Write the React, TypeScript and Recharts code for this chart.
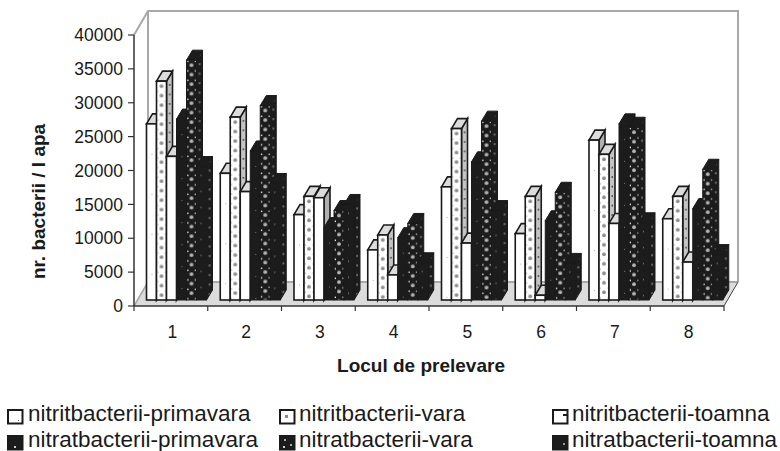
import React from 'react';
import { BarChart, Bar, XAxis, YAxis, Customized } from 'recharts';

const categories = ['1', '2', '3', '4', '5', '6', '7', '8'];
const nitritPrimavara = [26000, 18700, 12600, 7400, 16700, 9800, 23600, 12000];
const nitritVara = [32300, 27000, 15300, 9600, 25300, 15300, 21500, 15300];
const nitritToamna = [21200, 16000, 15100, 3700, 8400, 700, 11300, 5600];
const nitratPrimavara = [26700, 22000, 10700, 9200, 20400, 11700, 26000, 13500];
const nitratVara = [35400, 28700, 13200, 11300, 26400, 15900, 25500, 19300];
const nitratToamna = [19700, 17200, 14100, 5500, 13200, 5400, 11400, 6700];
const yTicks = [0, 5000, 10000, 15000, 20000, 25000, 30000, 35000, 40000];

const seriesNames = [
  'nitritbacterii-primavara', 'nitritbacterii-vara', 'nitritbacterii-toamna',
  'nitratbacterii-primavara', 'nitratbacterii-vara', 'nitratbacterii-toamna',
];
const seriesValues = [nitritPrimavara, nitritVara, nitritToamna, nitratPrimavara, nitratVara, nitratToamna];
const data = categories.map((c, i) => {
  const row: Record<string, string | number> = { cat: c };
  seriesNames.forEach((n, s) => { row[n] = seriesValues[s][i]; });
  return row;
});

const FONT = '"Liberation Sans", Arial, sans-serif';
const W = 780, H = 451;
const L = 134, R = 724, T = 35, B = 306;
const Y_W = 60, X_H = 50;
const WALL_DX = 14, WALL_DY = 24;
const SHIFT_X = 5.5, SHIFT_Y = 6;
const DEPTH_X = 6, DEPTH_Y = 10;
const fills = ['url(#p1)', 'url(#p2)', '#ffffff', 'url(#p4)', 'url(#p5)', 'url(#p6)'];
const sides = ['#b0b0b0', 'url(#s2)', '#b0b0b0', '#1c1c1c', 'url(#s5)', 'url(#s5)'];
const isDark = [false, false, false, true, true, true];

function Bar3D(props: any, s: number) {
  const { x, y, width, height } = props;
  const fx = x + SHIFT_X, fy = y - SHIFT_Y;
  const dark = isDark[s];
  const top = dark ? '#1c1c1c' : '#dcdcdc';
  const sw = dark ? 1 : 1.6;
  const stroke = '#1a1a1a';
  return (
    <g>
      <g transform={`translate(${fx + width},${fy})`}>
        <polygon points={`0,0 ${DEPTH_X},${-DEPTH_Y} ${DEPTH_X},${height - DEPTH_Y} 0,${height}`} fill={sides[s]} stroke={stroke} strokeWidth={sw} />
      </g>
      <polygon points={`${fx},${fy} ${fx + DEPTH_X},${fy - DEPTH_Y} ${fx + width + DEPTH_X},${fy - DEPTH_Y} ${fx + width},${fy}`} fill={top} stroke={stroke} strokeWidth={sw} />
      <g transform={`translate(${fx},${fy})`}>
        <rect x={0} y={0} width={width} height={height} fill={fills[s]} stroke={stroke} strokeWidth={sw} />
      </g>
    </g>
  );
}

function Backdrop() {
  const wallL = L + WALL_DX, wallR = R + WALL_DX, wallT = T - WALL_DY, wallB = B - WALL_DY;
  const step = (R - L) / categories.length;
  return (
    <g>
      <defs>
        <pattern id="p1" width="10" height="40" patternUnits="userSpaceOnUse">
          <rect width="10" height="40" fill="#fff" />
          <rect x="5" y="30" width="1" height="1" fill="#aaa" />
        </pattern>
        <pattern id="p2" width="10" height="9.5" patternUnits="userSpaceOnUse">
          <rect width="10" height="9.5" fill="#fff" />
          <circle cx="5" cy="5" r="1.9" fill="#8e8e8e" />
          <rect x="1" y="0.5" width="1" height="1" fill="#999" />
          <rect x="8.5" y="0.5" width="1" height="1" fill="#999" />
        </pattern>
        <pattern id="s2" width="6" height="9.5" patternUnits="userSpaceOnUse">
          <rect width="6" height="9.5" fill="#c4c4c4" />
          <rect x="2.5" y="3" width="1.5" height="1.5" fill="#333" />
        </pattern>
        <pattern id="p4" width="10" height="22" patternUnits="userSpaceOnUse">
          <rect width="10" height="22" fill="#1c1c1c" />
          <rect x="5" y="15" width="1" height="1" fill="#777" />
        </pattern>
        <pattern id="p5" width="10" height="9.5" patternUnits="userSpaceOnUse">
          <rect width="10" height="9.5" fill="#1c1c1c" />
          <circle cx="5" cy="5" r="1.9" fill="#b4b4b4" />
          <rect x="0.5" y="0.5" width="1.5" height="1.5" fill="#e8e8e8" />
          <rect x="8.5" y="0.5" width="1.5" height="1.5" fill="#e8e8e8" />
        </pattern>
        <pattern id="s5" width="6" height="9.5" patternUnits="userSpaceOnUse">
          <rect width="6" height="9.5" fill="#1c1c1c" />
          <rect x="2.5" y="3" width="1.2" height="2" fill="#999" />
        </pattern>
        <pattern id="p6" width="10" height="16" patternUnits="userSpaceOnUse">
          <rect width="10" height="16" fill="#1c1c1c" />
          <rect x="4" y="8" width="1" height="1.5" fill="#777" />
        </pattern>
      </defs>
      <polygon points={`${wallL},${wallB} ${wallR},${wallB} ${R},${B} ${L},${B}`} fill="#dcdcdc" />
      <polyline points={`${L},${T} ${wallL},${wallT} ${wallR},${wallT} ${wallR},${wallB}`} fill="none" stroke="#a8a8a8" strokeWidth={2} />
      <polyline points={`${wallL},${wallT} ${wallL},${wallB} ${wallR},${wallB}`} fill="none" stroke="#a8a8a8" strokeWidth={2} />
      <line x1={L} y1={B} x2={wallL} y2={wallB} stroke="#a8a8a8" strokeWidth={1.5} />
      <line x1={R} y1={B} x2={wallR} y2={wallB} stroke="#444" strokeWidth={1} />
      {categories.concat('').map((_, i) => (
        <line key={i} x1={L + i * step} x2={L + i * step} y1={B} y2={B + 5} stroke="#333" strokeWidth={1.2} />
      ))}
    </g>
  );
}

const legendPos = [
  { x: 7, tx: 28, y: 401 }, { x: 279, tx: 299, y: 401 }, { x: 552, tx: 572, y: 401 },
  { x: 7, tx: 28, y: 427 }, { x: 279, tx: 299, y: 427 }, { x: 552, tx: 572, y: 427 },
];

function Swatch({ i }: { i: number }) {
  const bg = isDark[i] ? '#1c1c1c' : '#fff';
  return (
    <svg width={17} height={16} style={{ position: 'absolute', left: 0, top: 8 }}>
      <rect x={1} y={1} width={14.5} height={13.5} fill={bg} stroke="#1a1a1a" strokeWidth={2} />
      {i === 0 && <rect x={11} y={11} width={1} height={1} fill="#777" />}
      {i === 1 && <rect x={6} y={6} width={3} height={3} fill="#888" />}
      {i === 2 && <rect x={11} y={5} width={5} height={2} fill="#1a1a1a" />}
      {i === 3 && <rect x={7} y={11} width={2} height={2} fill="#ccc" />}
      {i === 4 && <><rect x={5} y={4} width={2} height={2} fill="#aaa" /><rect x={11} y={9} width={2} height={2} fill="#aaa" /><rect x={4} y={11} width={2} height={2} fill="#ccc" /></>}
      {i === 5 && <rect x={11} y={8} width={2} height={2} fill="#999" />}
    </svg>
  );
}

function LegendBox() {
  return (
    <div style={{ position: 'absolute', left: 0, top: 0, width: W, height: H, overflow: 'hidden', pointerEvents: 'none', fontFamily: FONT, fontSize: 22.5, color: '#1a1a1a' }}>
      {seriesNames.map((n, i) => (
        <div key={n}>
          <div style={{ position: 'absolute', left: legendPos[i].x, top: legendPos[i].y, width: 17, height: 25 }}><Swatch i={i} /></div>
          <div style={{ position: 'absolute', left: legendPos[i].tx, top: legendPos[i].y, lineHeight: '25px', whiteSpace: 'nowrap' }}>{n}</div>
        </div>
      ))}
    </div>
  );
}

export default function App() {
  return (
    <div style={{ position: 'absolute', left: 0, top: 0, width: W, height: H, background: '#fff' }}>
      <BarChart
        width={W}
        height={H}
        data={data}
        margin={{ left: L - Y_W, right: W - R, top: T, bottom: H - B - X_H }}
        barCategoryGap={7}
        barGap={0}
      >
        <Customized component={Backdrop} />
        <XAxis
          dataKey="cat"
          height={X_H}
          tickLine={false}
          axisLine={{ stroke: '#333', strokeWidth: 1.5 }}
          tick={{ fontFamily: FONT, fontSize: 17.5, fill: '#1a1a1a', dx: 1.5 }}
          tickMargin={14}
          label={{ value: 'Locul de prelevare', position: 'insideBottom', offset: -16, dx: -8, style: { fontFamily: FONT, fontSize: 19, fontWeight: 700, fill: '#1a1a1a' } }}
        />
        <YAxis
          width={Y_W}
          domain={[0, 40000]}
          ticks={yTicks}
          interval={0}
          tickSize={6}
          tickMargin={5}
          tickLine={{ stroke: '#333', strokeWidth: 1.2 }}
          axisLine={{ stroke: '#333', strokeWidth: 1.5 }}
          tick={{ fontFamily: FONT, fontSize: 17.5, fill: '#1a1a1a' }}
          label={{ value: 'nr. bacterii / l apa', angle: -90, position: 'insideLeft', offset: -36, dy: 31, style: { fontFamily: FONT, fontSize: 19, fontWeight: 700, fill: '#1a1a1a', textAnchor: 'middle' } }}
        />
        {seriesNames.map((n, s) => (
          <Bar key={n} dataKey={n} isAnimationActive={false} shape={(p: any) => Bar3D(p, s)} />
        ))}
      </BarChart>
      <LegendBox />
    </div>
  );
}
